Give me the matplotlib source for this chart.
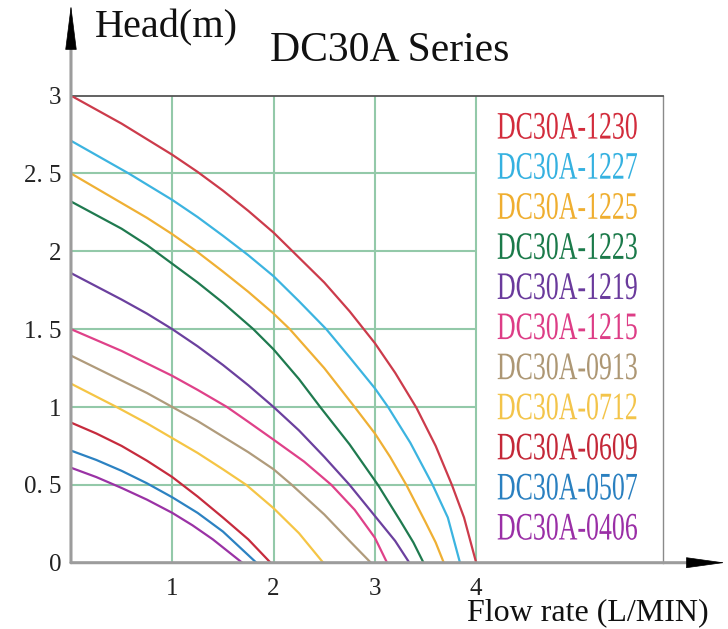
import matplotlib
matplotlib.use("Agg")
import matplotlib.pyplot as plt
from matplotlib.patheffects import AbstractPathEffect
from matplotlib.transforms import Affine2D

# pump curves: flow (L/min) vs head (m)
models = ['DC30A-1230', 'DC30A-1227', 'DC30A-1225', 'DC30A-1223', 'DC30A-1219', 'DC30A-1215',
          'DC30A-0913', 'DC30A-0712', 'DC30A-0609', 'DC30A-0507', 'DC30A-0406']
line_colors = ['#cc3b4b', '#3cb4e0', '#efb034', '#1f7a4f', '#6b409e', '#df4189',
               '#b09b7b', '#f5c545', '#c62b3d', '#2c82c2', '#9a32a5']
text_colors = ['#d22c3c', '#35b1e0', '#efae30', '#1b7a4a', '#6a3a9c', '#dd3d86',
               '#ad9774', '#f3c44a', '#c42838', '#2a80c0', '#9a2fa6']

q_1230 = [0, 0.5, 1, 1.25, 1.5, 1.75, 2, 2.5, 2.75, 3, 3.2, 3.41, 3.6, 3.76, 3.88, 4.0]
h_1230 = [3.0, 2.82, 2.62, 2.51, 2.39, 2.26, 2.12, 1.80, 1.615, 1.41, 1.22, 0.995, 0.75, 0.5, 0.29, 0]
q_1227 = [0, 0.57, 1, 1.25, 1.5, 1.75, 2, 2.25, 2.52, 2.75, 3, 3.13, 3.35, 3.57, 3.72, 3.84]
h_1227 = [2.71, 2.5, 2.33, 2.22, 2.10, 1.975, 1.84, 1.68, 1.5, 1.32, 1.12, 1.0, 0.77, 0.5, 0.29, 0]
q_1225 = [0, 0.5, 0.75, 1, 1.25, 1.5, 1.75, 2, 2.16, 2.5, 2.8, 3, 3.15, 3.31, 3.5, 3.6, 3.68]
h_1225 = [2.5, 2.31, 2.215, 2.11, 1.995, 1.87, 1.74, 1.60, 1.5, 1.25, 1.0, 0.83, 0.68, 0.5, 0.26, 0.13, 0]
q_1223 = [0, 0.5, 0.75, 1, 1.25, 1.5, 1.8, 2, 2.25, 2.46, 2.75, 3.03, 3.25, 3.38, 3.48]
h_1223 = [2.32, 2.145, 2.04, 1.92, 1.80, 1.67, 1.5, 1.37, 1.18, 1.0, 0.76, 0.5, 0.27, 0.13, 0]
q_1219 = [0, 0.5, 0.75, 1, 1.25, 1.5, 1.75, 2, 2.25, 2.5, 2.75, 3, 3.2, 3.34]
h_1219 = [1.86, 1.69, 1.60, 1.5, 1.39, 1.27, 1.14, 1.0, 0.85, 0.68, 0.5, 0.30, 0.14, 0]
q_1215 = [0, 0.5, 0.75, 1, 1.25, 1.54, 1.75, 2, 2.3, 2.57, 2.8, 3, 3.12]
h_1215 = [1.5, 1.36, 1.28, 1.2, 1.11, 1.0, 0.905, 0.79, 0.65, 0.5, 0.34, 0.16, 0]
q_0913 = [0, 0.5, 0.75, 1, 1.25, 1.5, 1.75, 2, 2.18, 2.5, 2.75, 2.96]
h_0913 = [1.33, 1.17, 1.09, 1.0, 0.91, 0.81, 0.71, 0.60, 0.5, 0.31, 0.14, 0]
q_0712 = [0, 0.45, 0.75, 1, 1.25, 1.5, 1.73, 2, 2.25, 2.49]
h_0712 = [1.15, 1.0, 0.895, 0.80, 0.705, 0.60, 0.5, 0.35, 0.19, 0]
q_0609 = [0, 0.25, 0.5, 0.75, 1, 1.25, 1.5, 1.75, 1.97]
h_0609 = [0.9, 0.83, 0.75, 0.655, 0.55, 0.425, 0.29, 0.15, 0]
q_0507 = [0, 0.25, 0.5, 0.75, 1, 1.25, 1.5, 1.83]
h_0507 = [0.72, 0.66, 0.59, 0.51, 0.42, 0.32, 0.2, 0]
q_0406 = [0, 0.25, 0.5, 0.75, 1, 1.2, 1.4, 1.69]
h_0406 = [0.61, 0.55, 0.48, 0.405, 0.32, 0.24, 0.15, 0]

flows = [q_1230, q_1227, q_1225, q_1223, q_1219, q_1215, q_0913, q_0712, q_0609, q_0507, q_0406]
heads = [h_1230, h_1227, h_1225, h_1223, h_1219, h_1215, h_0913, h_0712, h_0609, h_0507, h_0406]

x_ticks = [1, 2, 3, 4]
y_ticks = [0, 0.5, 1, 1.5, 2, 2.5, 3]
y_tick_labels = ['0', '0. 5', '1', '1. 5', '2', '2. 5', '3']


class Narrow(AbstractPathEffect):
    # squeeze glyphs horizontally, the datasheet uses a condensed face
    def __init__(self, sx):
        super().__init__()
        self.sx = sx

    def draw_path(self, renderer, gc, tpath, affine, rgbFace=None):
        renderer.draw_path(gc, tpath, Affine2D().scale(self.sx, 1) + affine, rgbFace)


plt.rcParams['font.family'] = ['Liberation Serif', 'DejaVu Serif']

fig = plt.figure(figsize=(7.28, 6.29), dpi=100)
ax = fig.add_axes([0.0975, 0.1054, 0.8132, 0.7426])
ax.set_xlim(0, 5.844)
ax.set_ylim(0, 3)

grid_c = '#93c9a9'
ax.vlines(x_ticks, 0, 3, color=grid_c, lw=1.5, zorder=1)
ax.hlines(y_ticks[1:-1], 0, 4, color=grid_c, lw=1.5, zorder=1)

for q, h, c in zip(flows, heads, line_colors):
    ax.plot(q, h, color=c, lw=1.6, zorder=3, solid_joinstyle='round')

# legend as coloured labels in the right box
for i, (name, c) in enumerate(zip(models, text_colors)):
    ax.text(4.205, 2.785 - i * 0.2575, name, color=c, fontsize=28, ha='left', va='center',
            path_effects=[Narrow(0.665)], zorder=4)

ax.set_xticks(x_ticks)
ax.set_xticklabels([str(t) for t in x_ticks])
ax.set_yticks(y_ticks)
ax.set_yticklabels(y_tick_labels)
ax.tick_params(axis='both', length=0, labelsize=18, colors='#222222')
ax.tick_params(axis='x', pad=11)
ax.tick_params(axis='y', pad=7)

for s in ['left', 'bottom']:
    ax.spines[s].set_visible(False)
ax.spines['top'].set_color('#555555')
ax.spines['top'].set_linewidth(1.3)
ax.spines['right'].set_color('#8a8a8a')
ax.spines['right'].set_linewidth(1.0)

# axes with arrow heads
axis_c = '#9c9c9c'
ax.annotate('', xy=(0, 1.105), xycoords='axes fraction', xytext=(0, 0),
            arrowprops=dict(arrowstyle='-', color=axis_c, lw=2.2, shrinkA=0, shrinkB=0), zorder=5)
ax.annotate('', xy=(1.06, 0), xycoords='axes fraction', xytext=(0, 0),
            arrowprops=dict(arrowstyle='-', color=axis_c, lw=2.2, shrinkA=0, shrinkB=0), zorder=5)
ax.annotate('', xy=(0, 1.194), xycoords='axes fraction', xytext=(0, 1.10),
            arrowprops=dict(arrowstyle='-|>,head_length=3.0,head_width=0.38', color='black',
                            lw=0.5, shrinkA=0, shrinkB=0, mutation_scale=10), zorder=6)
ax.annotate('', xy=(1.105, 0), xycoords='axes fraction', xytext=(1.045, 0),
            arrowprops=dict(arrowstyle='-|>,head_length=2.6,head_width=0.36', color='black',
                            lw=0.5, shrinkA=0, shrinkB=0, mutation_scale=10), zorder=6)

fig.text(95 / 728, 1 - 28 / 629, 'Head(m)', fontsize=29, ha='left', va='center', color='#111111')
fig.text(390 / 728, 1 - 51 / 629, 'DC30A Series', fontsize=30, ha='center', va='center', color='#111111')
fig.text(588 / 728, 1 - 613 / 629, 'Flow rate (L/MIN)', fontsize=23, ha='center', va='center', color='#111111')

fig.savefig('out.png', dpi=100)
